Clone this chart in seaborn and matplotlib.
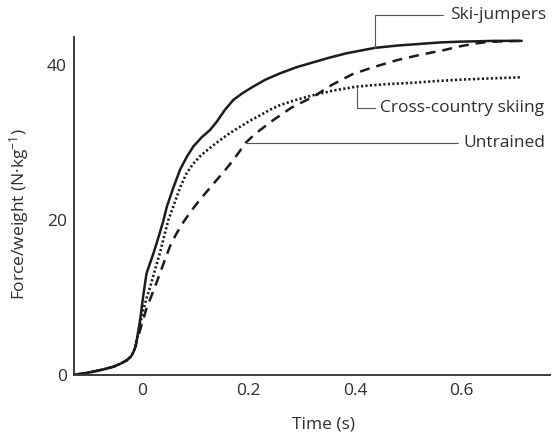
import matplotlib
matplotlib.use("Agg")
import matplotlib.pyplot as plt
import seaborn as sns
import pandas as pd

# ---- data ----
time_ski = [-0.127, -0.11, -0.091, -0.072, -0.053, -0.04, -0.028, -0.02, -0.016, -0.012,
            -0.009, -0.003, 0.003, 0.009, 0.022, 0.032, 0.041, 0.047, 0.06, 0.072,
            0.085, 0.097, 0.113, 0.128, 0.141, 0.156, 0.172, 0.19, 0.209, 0.232,
            0.259, 0.29, 0.32, 0.35, 0.384, 0.4375, 0.48, 0.52, 0.56, 0.597,
            0.63, 0.66, 0.69, 0.7125]
force_ski = [0.0, 0.2, 0.43, 0.72, 1.07, 1.45, 1.9, 2.4, 2.9, 3.6,
             4.6, 7.1, 10.3, 13.1, 15.7, 17.9, 20.0, 21.7, 24.3, 26.5,
             28.2, 29.5, 30.7, 31.6, 32.7, 34.2, 35.5, 36.4, 37.2, 38.1,
             38.9, 39.7, 40.3, 40.9, 41.5, 42.2, 42.5, 42.7, 42.9, 43.0,
             43.05, 43.1, 43.1, 43.1]

time_cross = [-0.127, -0.11, -0.091, -0.072, -0.053, -0.04, -0.028, -0.02, -0.016, -0.012,
              -0.009, -0.003, 0.003, 0.009, 0.016, 0.025, 0.034, 0.042, 0.05, 0.059,
              0.072, 0.084, 0.096, 0.109, 0.128, 0.147, 0.165, 0.184, 0.203, 0.222,
              0.24, 0.259, 0.29, 0.322, 0.36, 0.403, 0.455, 0.509, 0.55, 0.597,
              0.65, 0.709]
force_cross = [0.0, 0.2, 0.43, 0.72, 1.07, 1.45, 1.9, 2.4, 2.9, 3.6,
               4.6, 6.6, 8.4, 9.9, 11.4, 13.6, 15.7, 17.9, 20.0, 21.7,
               24.2, 26.0, 27.2, 28.2, 29.3, 30.3, 31.2, 32.0, 32.8, 33.5,
               34.2, 34.8, 35.5, 36.1, 36.7, 37.2, 37.5, 37.7, 37.9, 38.1,
               38.25, 38.4]

time_untr = [-0.127, -0.11, -0.091, -0.072, -0.053, -0.04, -0.028, -0.02, -0.016, -0.012,
             -0.009, -0.003, 0.003, 0.009, 0.017, 0.025, 0.033, 0.041, 0.053, 0.064,
             0.075, 0.092, 0.109, 0.125, 0.141, 0.155, 0.169, 0.182, 0.194, 0.208,
             0.222, 0.247, 0.281, 0.322, 0.356, 0.395, 0.434, 0.478, 0.522, 0.566,
             0.597, 0.625, 0.647, 0.68, 0.71]
force_untr = [0.0, 0.2, 0.43, 0.72, 1.07, 1.45, 1.9, 2.4, 2.9, 3.6,
              4.4, 5.8, 7.2, 8.6, 10.0, 11.4, 12.9, 14.4, 16.6, 18.1,
              19.4, 21.1, 22.6, 23.9, 25.2, 26.3, 27.5, 28.7, 29.9, 30.8,
              31.6, 32.9, 34.5, 35.9, 37.4, 38.8, 39.7, 40.6, 41.3, 41.9,
              42.4, 42.75, 42.95, 43.05, 43.1]

series_names = ["Ski-jumpers", "Cross-country skiing", "Untrained"]

x_ticks = [0, 0.2, 0.4, 0.6]
x_tick_labels = ["0", "0.2", "0.4", "0.6"]
y_ticks = [0, 20, 40]
y_tick_labels = ["0", "20", "40"]

# ---- style ----
sns.set_theme(style="white")
plt.rcParams["font.family"] = ["Open Sans", "DejaVu Sans"]
plt.rcParams["mathtext.fontset"] = "custom"
plt.rcParams["mathtext.rm"] = "Open Sans"
plt.rcParams["mathtext.it"] = "Open Sans"
plt.rcParams["mathtext.default"] = "regular"

ink = "#1c1c1c"
txt = "#2e2e2e"
axc = "#3c3c3c"
conn = "#555555"
fs = 12.5

fig = plt.figure(figsize=(5.52, 4.33), dpi=100)
ax = fig.add_axes([74 / 552, 1 - 375 / 433, (550 - 74) / 552, (375 - 37) / 433])

df_ski = pd.DataFrame({"t": time_ski, "f": force_ski})
df_cross = pd.DataFrame({"t": time_cross, "f": force_cross})
df_untr = pd.DataFrame({"t": time_untr, "f": force_untr})

sns.lineplot(data=df_ski, x="t", y="f", ax=ax, color=ink, lw=1.8,
             estimator=None, sort=False)
sns.lineplot(data=df_cross, x="t", y="f", ax=ax, color=ink, lw=1.9,
             estimator=None, sort=False, linestyle=(0, (0.8, 0.9)))
sns.lineplot(data=df_untr, x="t", y="f", ax=ax, color=ink, lw=1.8,
             estimator=None, sort=False, linestyle=(0, (4, 2.8)))
for ln in ax.get_lines():
    ln.set_solid_joinstyle("round")
    ln.set_dash_joinstyle("round")

ax.set_xlim(-0.127, 0.7656)
ax.set_ylim(0, 43.6)

ax.set_xticks(x_ticks)
ax.set_xticklabels(x_tick_labels)
ax.set_yticks(y_ticks)
ax.set_yticklabels(y_tick_labels)
ax.tick_params(axis="both", direction="in", length=12.5, width=0.9, color=axc,
               labelsize=fs, labelcolor=txt, pad=5)
ax.tick_params(axis="y", pad=5)
ax.tick_params(axis="x", pad=6)

for s in ["top", "right"]:
    ax.spines[s].set_visible(False)
for s in ["left", "bottom"]:
    ax.spines[s].set_color(axc)
    ax.spines[s].set_linewidth(1.4)

ax.set_xlabel("Time (s)", fontsize=fs, color=txt)
ax.set_ylabel(r"Force/weight (N·kg$^{-1}$)", fontsize=fs, color=txt)
ax.xaxis.set_label_coords(0.525, -0.122)
ax.yaxis.set_label_coords(-0.09, 0.475)

# ---- callouts ----
# Ski-jumpers: from curve up, then right
sx, sy, sy2, sx2 = 0.4375, 42.2, 46.45, 0.5656
ax.plot([sx, sx, sx2], [sy, sy2, sy2], color=conn, lw=0.8, clip_on=False)
ax.text(sx2 + 0.012, sy2, series_names[0], fontsize=fs, color=txt,
        va="center", ha="left", clip_on=False)
# Cross-country: from curve down, then right
cx, cy, cy2, cx2 = 0.403, 37.0, 34.4, 0.4375
ax.plot([cx, cx, cx2], [cy, cy2, cy2], color=conn, lw=0.8)
ax.text(cx2 + 0.009, cy2, series_names[1], fontsize=fs, color=txt,
        va="center", ha="left")
# Untrained: straight right
ux, uy, ux2 = 0.197, 29.9, 0.594
ax.plot([ux, ux2], [uy, uy], color=conn, lw=0.8)
ax.text(ux2 + 0.0085, uy, series_names[2], fontsize=fs, color=txt,
        va="center", ha="left")

fig.savefig("out.png", dpi=100)
